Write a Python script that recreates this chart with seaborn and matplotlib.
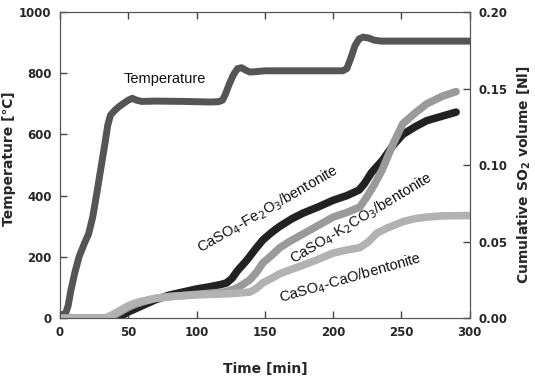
import matplotlib
matplotlib.use("Agg")
import matplotlib.pyplot as plt
import seaborn as sns

# temperature profile [deg C] vs time [min]
temp_t = [0, 4, 6, 8, 11, 14, 18, 21, 24, 27, 30, 33, 35, 37, 40, 43, 47, 50, 53, 56, 60, 70, 90, 110,
          116, 119, 121, 124, 127, 130, 133, 136, 139, 143, 150, 170, 190, 207, 210, 213, 216, 219, 222,
          226, 230, 235, 250, 300]
temp_c = [10, 14, 40, 90, 150, 200, 245, 275, 330, 408, 490, 572, 630, 663, 678, 690, 703, 712, 718, 712,
          708, 709, 708, 706, 707, 712, 730, 765, 795, 815, 818, 810, 804, 805, 808, 808, 808, 808, 815,
          850, 890, 912, 918, 915, 908, 905, 905, 905]

# cumulative SO2 volume [Nl] vs time [min]
fe_t = [0, 38, 42, 46, 50, 55, 60, 65, 70, 80, 90, 100, 110, 118, 122, 126, 130, 137, 143, 148.5, 155,
        161, 170, 178, 190, 200, 210, 219, 223, 228, 236, 244, 251, 260, 268.5, 280, 290]
fe_v = [0, 0, 0.001, 0.002, 0.004, 0.006, 0.008, 0.010, 0.012, 0.015, 0.017, 0.019, 0.0205, 0.022,
        0.023, 0.026, 0.031, 0.038, 0.045, 0.051, 0.056, 0.060, 0.065, 0.0686, 0.073, 0.077, 0.080,
        0.0837, 0.088, 0.095, 0.103, 0.113, 0.120, 0.125, 0.129, 0.132, 0.1346]
k_t = [0, 33, 38, 42, 46, 50, 55, 60, 65, 70, 80, 100, 120, 128, 134, 139, 144, 148.5, 155, 161, 168,
       176, 188, 200, 210, 219.5, 224.5, 230, 236, 244, 251, 260, 268.5, 280, 290]
k_v = [0, 0, 0.001, 0.003, 0.005, 0.007, 0.009, 0.0105, 0.0118, 0.0128, 0.014, 0.0155, 0.017, 0.019,
       0.022, 0.025, 0.030, 0.036, 0.041, 0.046, 0.050, 0.054, 0.060, 0.066, 0.069, 0.0725, 0.079,
       0.087, 0.097, 0.114, 0.127, 0.134, 0.140, 0.145, 0.148]
cao_t = [0, 33, 38, 42, 46, 50, 55, 60, 65, 70, 80, 100, 120, 130, 139, 144, 148.5, 155, 161, 170, 178,
         188, 200, 210, 219.5, 226, 232, 240, 251, 260, 268.5, 280, 300]
cao_v = [0, 0, 0.002, 0.004, 0.006, 0.008, 0.0098, 0.011, 0.012, 0.013, 0.014, 0.0152, 0.0158, 0.0163,
         0.017, 0.0195, 0.023, 0.026, 0.029, 0.032, 0.0346, 0.038, 0.0425, 0.0445, 0.046, 0.050,
         0.0555, 0.059, 0.063, 0.065, 0.066, 0.0668, 0.067]

x_ticks = [0, 50, 100, 150, 200, 250, 300]
t_ticks = [0, 200, 400, 600, 800, 1000]
v_ticks = [0, 0.05, 0.10, 0.15, 0.20]
v_labels = ["0.00", "0.05", "0.10", "0.15", "0.20"]

sns.set_style("ticks")
plt.rcParams['font.family'] = ['DejaVu Sans']

fig = plt.figure(figsize=(5.35, 3.76), dpi=100)
ax = fig.add_axes([0.112, 0.154, 0.766, 0.814])
ax2 = ax.twinx()

sns.lineplot(x=temp_t, y=temp_c, ax=ax, color="#555555", lw=5, sort=False, solid_capstyle="round")
sns.lineplot(x=fe_t, y=fe_v, ax=ax2, color="#222222", lw=5.5, sort=False, solid_capstyle="round")
sns.lineplot(x=k_t, y=k_v, ax=ax2, color="#9a9a9a", lw=5.5, sort=False, solid_capstyle="round")
sns.lineplot(x=cao_t, y=cao_v, ax=ax2, color="#b2b2b2", lw=5.5, sort=False, solid_capstyle="round")

ax.set_xlim(0, 300)
ax.set_ylim(0, 1000)
ax2.set_ylim(0, 0.20)
ax.set_xticks(x_ticks)
ax.set_xticklabels([str(v) for v in x_ticks], fontweight="bold", fontsize=8.5)
ax.set_yticks(t_ticks)
ax.set_yticklabels([str(v) for v in t_ticks], fontweight="bold", fontsize=8.5)
ax2.set_yticks(v_ticks)
ax2.set_yticklabels(v_labels, fontweight="bold", fontsize=8.5)

ax.tick_params(axis="both", direction="in", length=5, width=1, pad=6, color="#444444",
               top=True, labelbottom=True, labeltop=False)
ax2.tick_params(axis="y", direction="in", length=5, width=1, pad=6, color="#444444")
for a in (ax, ax2):
    for s in a.spines.values():
        s.set_color("#555555")

ax.set_xlabel("Time [min]", fontsize=10, fontweight="bold")
ax.set_ylabel("Temperature [\u2103]", fontsize=10, fontweight="bold")
ax2.set_ylabel("Cumulative SO$_\\mathbf{2}$ volume [Nl]", fontsize=10, fontweight="bold")
ax.xaxis.set_label_coords(0.5, -0.145)
ax.yaxis.set_label_coords(-0.107, 0.52)
ax2.yaxis.set_label_coords(1.112, 0.47)

tf = dict(family="Liberation Sans", fontsize=10.5, color="#111111", ha="center", va="center")
ax.text(77, 781, "Temperature", **tf)
ax2.text(152, 0.071, "CaSO$_4$-Fe$_2$O$_3$/bentonite", rotation=30, **tf)
ax2.text(221, 0.0655, "CaSO$_4$-K$_2$CO$_3$/bentonite", rotation=31, **tf)
ax2.text(213, 0.026, "CaSO$_4$-CaO/bentonite", rotation=16, **tf)

fig.savefig("out.png", dpi=100)
